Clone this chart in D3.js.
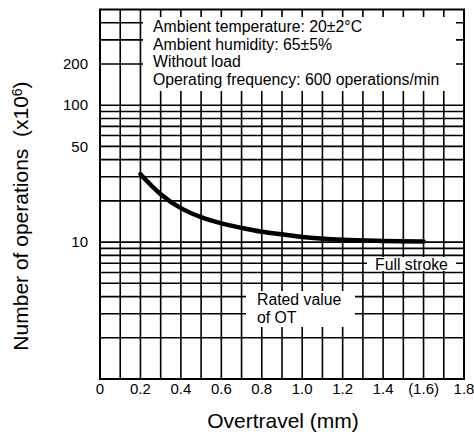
<!DOCTYPE html>
<html>
<head>
<meta charset="utf-8">
<script src="https://cdn.jsdelivr.net/npm/d3@7"></script>
<style>
  html, body { margin: 0; padding: 0; background: #fff; }
  svg text { font-family: "Liberation Sans", Arial, sans-serif; fill: #000; }
</style>
</head>
<body>
<svg id="chart"></svg>
<script>
'use strict';

// curve: overtravel (mm) vs number of operations (x10^6)
const overtravel = [0.2, 0.3, 0.4, 0.5, 0.6, 0.7, 0.8, 0.9, 1.0, 1.2, 1.4, 1.6];
const operations = [31.3, 22.4, 17.7, 15.2, 13.7, 12.7, 11.9, 11.4, 10.9, 10.4, 10.2, 10.1];

const xTicks = [0, 0.2, 0.4, 0.6, 0.8, 1.0, 1.2, 1.4, 1.6, 1.8];
const xTickLabels = ['0', '0.2', '0.4', '0.6', '0.8', '1.0', '1.2', '1.4', '(1.6)', '1.8'];
const yTicks = [10, 50, 100, 200];
const xGrid = d3.range(0, 19).map(i => i / 10);
const yGrid = [2, 3, 4, 5, 6, 7, 8, 9, 10, 20, 30, 40, 50, 60, 70, 80, 90, 100, 200, 300, 400];

const conditions = [
  'Ambient temperature: 20\u00B12\u00B0C',
  'Ambient humidity: 65\u00B15%',
  'Without load',
  'Operating frequency: 600 operations/min',
];
const ratedLabel = ['Rated value', 'of OT'];
const fullLabel = 'Full stroke';

const width = 474;
const height = 432;

const svg = d3.select('#chart')
  .attr('width', width)
  .attr('height', height);

const x = d3.scaleLinear().domain([0, 1.8]).range([100, 464]);
const y = d3.scaleLog().domain([1, 500]).range([379, 9.5]);

// grid
svg.append('g')
  .selectAll('line')
  .data(xGrid)
  .enter()
  .append('line')
  .attr('x1', d => x(d)).attr('x2', d => x(d))
  .attr('y1', y(1)).attr('y2', y(500))
  .attr('stroke', '#000')
  .attr('stroke-width', 1.6);

svg.append('g')
  .selectAll('line')
  .data(yGrid)
  .enter()
  .append('line')
  .attr('x1', x(0)).attr('x2', x(1.8))
  .attr('y1', d => y(d)).attr('y2', d => y(d))
  .attr('stroke', '#000')
  .attr('stroke-width', 1.6);

// frame
svg.append('rect')
  .attr('x', x(0))
  .attr('y', y(500))
  .attr('width', x(1.8) - x(0))
  .attr('height', y(1) - y(500))
  .attr('fill', 'none')
  .attr('stroke', '#000')
  .attr('stroke-width', 2);

// white label boxes over the grid
const boxes = [
  { x: 143, y: 17, w: 313, h: 74 },
  { x: 367, y: 257, w: 89, h: 14 },
  { x: 246, y: 291, w: 109, h: 36 },
];
svg.append('g')
  .selectAll('rect')
  .data(boxes)
  .enter()
  .append('rect')
  .attr('x', d => d.x)
  .attr('y', d => d.y)
  .attr('width', d => d.w)
  .attr('height', d => d.h)
  .attr('fill', '#fff');

// curve
const line = d3.line()
  .x((d, i) => x(overtravel[i]))
  .y(d => y(d))
  .curve(d3.curveCatmullRom.alpha(0.5));

svg.append('path')
  .datum(operations)
  .attr('d', line)
  .attr('fill', 'none')
  .attr('stroke', '#000')
  .attr('stroke-width', 4.5)
  .attr('stroke-linecap', 'round');

// annotations
svg.append('g')
  .selectAll('text')
  .data(conditions)
  .enter()
  .append('text')
  .attr('x', 153)
  .attr('y', (d, i) => 32 + i * 17.7)
  .attr('font-size', '15.8px')
  .text(d => d);

svg.append('g')
  .selectAll('text')
  .data(ratedLabel)
  .enter()
  .append('text')
  .attr('x', 257)
  .attr('y', (d, i) => 305 + i * 18)
  .attr('font-size', '15.8px')
  .text(d => d);

svg.append('text')
  .attr('x', 375)
  .attr('y', 270)
  .attr('font-size', '15.8px')
  .text(fullLabel);

// tick labels
svg.append('g')
  .selectAll('text')
  .data(xTicks)
  .enter()
  .append('text')
  .attr('x', d => x(d))
  .attr('y', 394)
  .attr('text-anchor', 'middle')
  .attr('font-size', '15px')
  .text((d, i) => xTickLabels[i]);

svg.append('g')
  .selectAll('text')
  .data(yTicks)
  .enter()
  .append('text')
  .attr('x', 88)
  .attr('y', d => y(d))
  .attr('dy', '0.35em')
  .attr('text-anchor', 'end')
  .attr('font-size', '15px')
  .text(d => d);

// axis titles
svg.append('text')
  .attr('x', 283)
  .attr('y', 428)
  .attr('text-anchor', 'middle')
  .attr('font-size', '21px')
  .text('Overtravel (mm)');

const yTitle = svg.append('text')
  .attr('transform', 'translate(28,216) rotate(-90)')
  .attr('text-anchor', 'middle')
  .attr('font-size', '21px')
  .style('white-space', 'pre');
yTitle.append('tspan').text('Number of operations  (x10');
yTitle.append('tspan').attr('dy', '-0.45em').attr('font-size', '14px').text('6');
yTitle.append('tspan').attr('dy', '0.3em').text(')');
</script>
</body>
</html>
